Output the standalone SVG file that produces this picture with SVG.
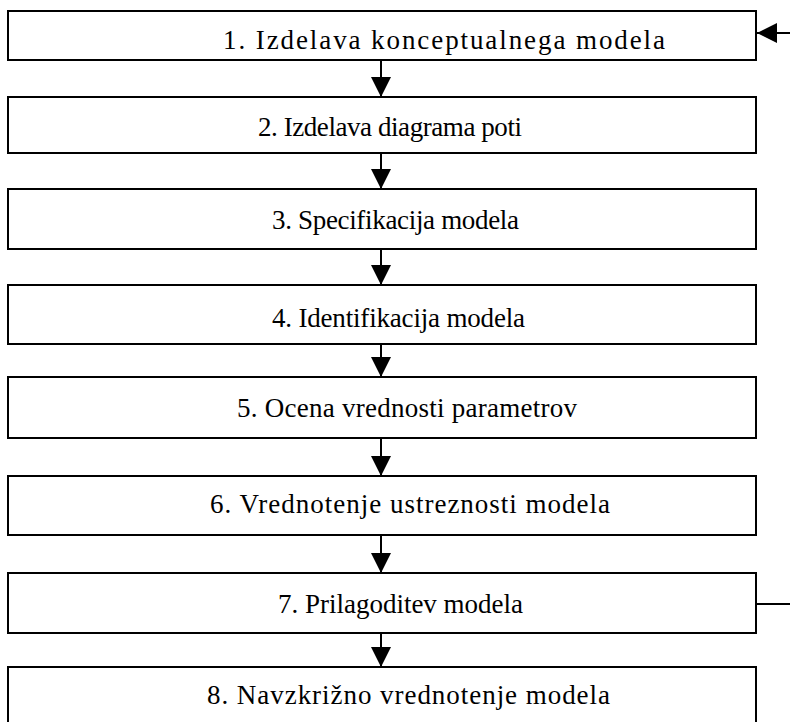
<svg xmlns="http://www.w3.org/2000/svg" width="790" height="722" viewBox="0 0 790 722">
  <style>
    .box { fill: #fff; stroke: #000; stroke-width: 2; }
    .lbl { font-family: "Liberation Serif", "Times New Roman", serif; font-size: 27px; fill: #000; }
    .wire { stroke: #000; stroke-width: 2; fill: none; }
  </style>
  <defs>
    <marker id="head" viewBox="0 0 20 20" refX="20" refY="10" markerWidth="20" markerHeight="20" markerUnits="userSpaceOnUse" orient="auto">
      <path d="M0,0 L20,10 L0,20 Z" fill="#000"/>
    </marker>
  </defs>
  <rect width="790" height="722" fill="#fff"/>

  <g id="step1">
    <rect class="box" x="8" y="11" width="748" height="49"/>
    <text class="lbl" x="223" y="49" textLength="442" lengthAdjust="spacing">1. Izdelava konceptualnega modela</text>
  </g>
  <g id="step2">
    <rect class="box" x="8" y="97" width="748" height="56"/>
    <text class="lbl" x="258" y="136" textLength="264" lengthAdjust="spacing">2. Izdelava diagrama poti</text>
  </g>
  <g id="step3">
    <rect class="box" x="8" y="189" width="748" height="60"/>
    <text class="lbl" x="272" y="229" textLength="247" lengthAdjust="spacing">3. Specifikacija modela</text>
  </g>
  <g id="step4">
    <rect class="box" x="8" y="285" width="748" height="59"/>
    <text class="lbl" x="272" y="327" textLength="253" lengthAdjust="spacing">4. Identifikacija modela</text>
  </g>
  <g id="step5">
    <rect class="box" x="8" y="377" width="748" height="61"/>
    <text class="lbl" x="237" y="417" textLength="340" lengthAdjust="spacing">5. Ocena vrednosti parametrov</text>
  </g>
  <g id="step6">
    <rect class="box" x="8" y="476" width="748" height="59"/>
    <text class="lbl" x="210" y="513" textLength="400" lengthAdjust="spacing">6. Vrednotenje ustreznosti modela</text>
  </g>
  <g id="step7">
    <rect class="box" x="8" y="573" width="748" height="60"/>
    <text class="lbl" x="278" y="613" textLength="245" lengthAdjust="spacing">7. Prilagoditev modela</text>
  </g>
  <g id="step8">
    <rect class="box" x="8" y="667" width="748" height="60"/>
    <text class="lbl" x="207" y="704" textLength="403" lengthAdjust="spacing">8. Navzkrižno vrednotenje modela</text>
  </g>

  <g id="connectors">
    <line class="wire" x1="381" y1="60" x2="381" y2="97" marker-end="url(#head)"/>
    <line class="wire" x1="381" y1="153" x2="381" y2="189" marker-end="url(#head)"/>
    <line class="wire" x1="381" y1="249" x2="381" y2="285" marker-end="url(#head)"/>
    <line class="wire" x1="381" y1="344" x2="381" y2="377" marker-end="url(#head)"/>
    <line class="wire" x1="381" y1="438" x2="381" y2="476" marker-end="url(#head)"/>
    <line class="wire" x1="381" y1="535" x2="381" y2="573" marker-end="url(#head)"/>
    <line class="wire" x1="381" y1="633" x2="381" y2="667" marker-end="url(#head)"/>
    <!-- feedback from step 7 back into step 1 (loop runs off the right edge) -->
    <line class="wire" x1="756" y1="604" x2="790" y2="604"/>
    <line class="wire" x1="790" y1="33" x2="757" y2="33" marker-end="url(#head)"/>
  </g>
</svg>
